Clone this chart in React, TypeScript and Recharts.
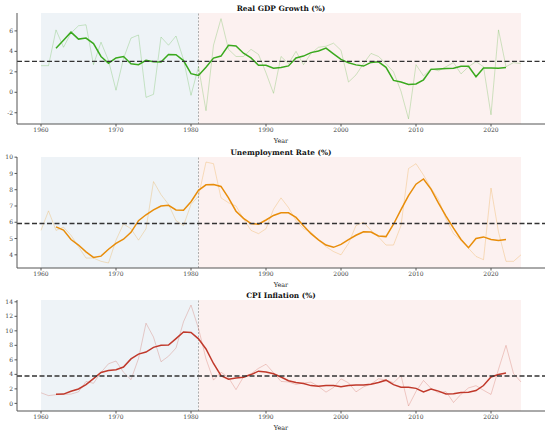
import { LineChart, Line, XAxis, YAxis, ReferenceArea, ReferenceLine, Label } from "recharts"

const years = Array.from({ length: 65 }, (_, i) => 1960 + i)

const gdpRaw = [
  2.6, 2.6, 6.1, 4.4, 5.8, 6.5, 6.6, 2.7, 4.9, 3.1,
  0.2, 3.3, 5.3, 5.6, -0.5, -0.2, 5.4, 4.6, 5.5, 3.2,
  -0.3, 2.5, -1.8, 4.6, 7.2, 4.2, 3.5, 3.5, 4.2, 3.7,
  1.9, -0.1, 3.5, 2.8, 4.0, 2.7, 3.8, 4.4, 4.5, 4.8,
  4.1, 1.0, 1.7, 2.8, 3.8, 3.5, 2.8, 2.0, 0.1, -2.6,
  2.7, 1.6, 2.3, 2.1, 2.5, 2.9, 1.8, 2.5, 3.0, 2.5,
  -2.2, 6.1, 2.5, 2.9, 2.8,
]
// 5-year centred average, as drawn (no value for the first and last two years)
const gdpSmooth = [
  null, null, 4.3, 5.08, 5.88, 5.2, 5.3, 4.76, 3.5, 2.84,
  3.36, 3.5, 2.78, 2.7, 3.12, 2.98, 2.96, 3.7, 3.68, 3.1,
  1.82, 1.64, 2.44, 3.34, 3.54, 4.6, 4.52, 3.82, 3.36, 2.64,
  2.64, 2.36, 2.42, 2.58, 3.36, 3.54, 3.88, 4.04, 4.32, 3.76,
  3.22, 2.88, 2.68, 2.56, 2.92, 2.98, 2.44, 1.16, 1.0, 0.76,
  0.82, 1.22, 2.24, 2.28, 2.32, 2.36, 2.54, 2.54, 1.52, 2.38,
  2.38, 2.36, 2.42, null, null,
]

const unempRaw = [
  5.5, 6.7, 5.5, 5.7, 5.2, 4.5, 3.8, 3.8, 3.6, 3.5,
  4.9, 5.9, 5.6, 4.9, 5.6, 8.5, 7.7, 7.1, 6.1, 5.8,
  7.1, 7.6, 9.7, 9.6, 7.5, 7.2, 7.0, 6.2, 5.5, 5.3,
  5.6, 6.8, 7.5, 6.9, 6.1, 5.6, 5.4, 4.9, 4.5, 4.2,
  4.0, 4.7, 5.8, 6.0, 5.5, 5.1, 4.6, 4.6, 5.8, 9.3,
  9.6, 8.9, 8.1, 7.4, 6.2, 5.3, 4.9, 4.4, 3.9, 3.7,
  8.1, 5.4, 3.6, 3.6, 4.0,
]
const unempSmooth = [
  null, null, 5.72, 5.52, 4.94, 4.6, 4.18, 3.84, 3.92, 4.34,
  4.7, 4.96, 5.38, 6.1, 6.46, 6.76, 7.0, 7.04, 6.76, 6.74,
  7.26, 7.96, 8.3, 8.32, 8.2, 7.5, 6.68, 6.24, 5.92, 5.88,
  6.14, 6.42, 6.58, 6.58, 6.3, 5.78, 5.3, 4.92, 4.6, 4.46,
  4.64, 4.94, 5.2, 5.42, 5.4, 5.16, 5.12, 5.88, 6.78, 7.64,
  8.34, 8.66, 8.04, 7.18, 6.38, 5.64, 4.94, 4.44, 5.0, 5.1,
  4.94, 4.88, 4.94, null, null,
]

const cpiRaw = [
  1.46, 1.07, 1.2, 1.24, 1.28, 1.59, 3.02, 2.77, 4.27, 5.46,
  5.84, 4.29, 3.27, 6.18, 11.05, 9.14, 5.74, 6.5, 7.63, 11.25,
  13.55, 10.33, 6.13, 3.21, 4.3, 3.55, 1.9, 3.66, 4.08, 4.83,
  5.4, 4.23, 3.03, 2.95, 2.61, 2.81, 2.93, 2.34, 1.55, 2.19,
  3.38, 2.83, 1.59, 2.27, 2.68, 3.39, 3.23, 2.85, 3.84, -0.36,
  1.64, 3.16, 2.07, 1.46, 1.62, 0.12, 1.26, 2.13, 2.44, 1.81,
  1.23, 4.7, 8.0, 4.12, 2.95,
]
const cpiSmooth = [
  null, null, 1.25, 1.28, 1.67, 1.98, 2.59, 3.42, 4.27, 4.53,
  4.63, 5.01, 6.13, 6.79, 7.08, 7.72, 8.01, 8.05, 8.93, 9.85,
  9.78, 8.89, 7.5, 5.5, 3.82, 3.32, 3.5, 3.6, 3.97, 4.44,
  4.31, 4.09, 3.64, 3.13, 2.87, 2.73, 2.45, 2.36, 2.48, 2.46,
  2.31, 2.45, 2.55, 2.55, 2.63, 2.88, 3.2, 2.59, 2.24, 2.23,
  2.07, 1.59, 1.99, 1.69, 1.31, 1.32, 1.51, 1.55, 1.77, 2.46,
  3.64, 3.97, 4.2, null, null,
]

const xTicks = [1960, 1970, 1980, 1990, 2000, 2010, 2020]
const gdpTicks = [-2, 0, 2, 4, 6]
const unempTicks = [4, 5, 6, 7, 8, 9, 10]
const cpiTicks = [0, 2, 4, 6, 8, 10, 12, 14]

const gdpMean = 3.02
const unempMean = 5.92
const cpiMean = 3.78
const breakYear = 1981

const FONT = "'DejaVu Serif', serif"

function buildRows(raw: number[], smooth: (number | null)[]) {
  return years.map((year, i) => ({ year, raw: raw[i], smooth: smooth[i] }))
}

interface PanelProps {
  title: string
  raw: number[]
  smooth: (number | null)[]
  color: string
  yDomain: [number, number]
  yTicks: number[]
  mean: number
  top: number
}

function Panel({ title, raw, smooth, color, yDomain, yTicks, mean, top }: PanelProps) {
  const rows = buildRows(raw, smooth)
  const tickStyle = { fontSize: 6, fill: "#444", fontFamily: FONT }
  return (
    <div style={{ position: "absolute", left: 0, top, width: 550, height: 145 }}>
      <div
        style={{
          position: "absolute",
          left: 17,
          width: 528,
          top: 4,
          textAlign: "center",
          fontFamily: FONT,
          fontWeight: "bold",
          fontSize: 7.4,
          lineHeight: "9px",
          color: "#111",
          whiteSpace: "nowrap",
        }}
      >
        {title}
      </div>
      <LineChart width={550} height={145} data={rows} margin={{ top: 13, right: 5, bottom: 0, left: 0 }}>
        <XAxis
          type="number"
          dataKey="year"
          domain={[1956.8, 2027.2]}
          ticks={xTicks}
          allowDataOverflow
          height={21}
          tickSize={2.5}
          tickMargin={1.5}
          tick={tickStyle}
          stroke="#555"
        >
          <Label value="Year" position="insideBottom" offset={2} fontSize={6.4} fill="#222" stroke="none" fontFamily={FONT} />
        </XAxis>
        <YAxis
          type="number"
          domain={yDomain}
          ticks={yTicks}
          allowDataOverflow
          width={17}
          tickSize={2.5}
          tickMargin={1.5}
          tick={tickStyle}
          stroke="#555"
        />
        <ReferenceArea x1={1960} x2={breakYear} fill="#eef3f7" fillOpacity={1} stroke="none" />
        <ReferenceArea x1={breakYear} x2={2024} fill="#fcf1f0" fillOpacity={1} stroke="none" />
        <ReferenceLine x={breakYear} stroke="#9a9a9a" strokeWidth={0.8} strokeDasharray="2 1.5" />
        <Line
          dataKey="raw"
          stroke={color}
          strokeOpacity={0.3}
          strokeWidth={0.8}
          dot={false}
          activeDot={false}
          isAnimationActive={false}
        />
        <Line
          dataKey="smooth"
          stroke={color}
          strokeWidth={1.5}
          dot={false}
          activeDot={false}
          isAnimationActive={false}
        />
        <ReferenceLine y={mean} stroke="#333" strokeWidth={1.4} strokeDasharray="5 2.5" />
      </LineChart>
    </div>
  )
}

export default function App() {
  return (
    <div style={{ position: "absolute", left: 0, top: 0, width: 550, height: 432, background: "#fff" }}>
      <Panel
        title="Real GDP Growth (%)"
        raw={gdpRaw}
        smooth={gdpSmooth}
        color="#3aa91e"
        yDomain={[-3.1, 7.75]}
        yTicks={gdpTicks}
        mean={gdpMean}
        top={0}
      />
      <Panel
        title="Unemployment Rate (%)"
        raw={unempRaw}
        smooth={unempSmooth}
        color="#e88d0a"
        yDomain={[3.19, 10.01]}
        yTicks={unempTicks}
        mean={unempMean}
        top={143.5}
      />
      <Panel
        title="CPI Inflation (%)"
        raw={cpiRaw}
        smooth={cpiSmooth}
        color="#c0392b"
        yDomain={[-1.05, 14.25]}
        yTicks={cpiTicks}
        mean={cpiMean}
        top={286.5}
      />
    </div>
  )
}
